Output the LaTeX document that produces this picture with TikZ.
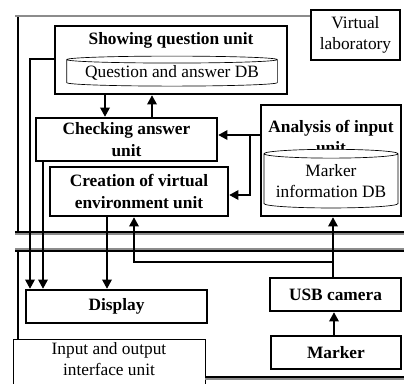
\documentclass[tikz,border=0pt]{standalone}
\usepackage{fontspec}
\setmainfont{Liberation Serif}
\usetikzlibrary{shapes.geometric,arrows.meta}

\begin{document}
\begin{tikzpicture}[x=0.75pt,y=-0.75pt,
  font=\fontsize{13}{16}\selectfont,
  unitbox/.style={draw,line width=1.7pt,inner sep=0pt,align=center},
  boldbox/.style={unitbox,font=\fontsize{13}{16}\selectfont\bfseries},
  titletext/.style={inner sep=0pt,align=center,font=\fontsize{13}{16}\selectfont\bfseries},
  dbnode/.style={draw,fill=white,line width=0.5pt,cylinder,shape border rotate=90,inner sep=0pt,align=center},
  plainbox/.style={draw,line width=0.7pt,inner sep=0pt,align=center},
  arr/.style={line width=1.7pt,-{Triangle[length=7pt,width=7pt]}},
  frame/.style={line width=0.9pt},
  frametop/.style={line width=1.7pt,black!45}]

	\useasboundingbox (0,0) rectangle (404,383);

	% virtual laboratory part
	\node[unitbox,minimum width=66.75pt,minimum height=37.5pt] (vl) at (355.5,35) {Virtual\\laboratory};
	\node[unitbox,minimum width=174pt,minimum height=51pt] (show) at (171,60) {};
	\node[titletext] (showt) at (171,40) {Showing question unit};
	\node[dbnode,aspect=0.04,minimum width=158pt,minimum height=22.5pt] (qadb) at (172,73) {Question and answer DB};
	\node[boldbox,minimum width=135.75pt,minimum height=32.25pt] (check) at (126.5,139.5) {Checking answer\\unit};
	\node[boldbox,minimum width=133.5pt,minimum height=36.75pt] (create) at (139,191.5) {Creation of virtual\\environment unit};
	\node[unitbox,minimum width=105pt,minimum height=83.25pt] (anal) at (331,160.5) {};
	\node[titletext] (analt) at (331,137) {Analysis of input\\unit};
	\node[dbnode,aspect=0.08,minimum width=100.5pt,minimum height=44pt] (mdb) at (331,181) {Marker\\information DB};

	% input and output part
	\node[boldbox,minimum width=135.75pt,minimum height=24.75pt] (display) at (116.5,306.5) {Display};
	\node[boldbox,minimum width=98.25pt,minimum height=24.75pt] (usb) at (335.5,294.5) {USB camera};
	\node[boldbox,minimum width=97.5pt,minimum height=24.75pt] (marker) at (336,352.5) {Marker};
	\node[plainbox,minimum width=144pt,minimum height=42pt,text depth=12pt] (io) at (109,367) {Input and output\\interface unit};

	\coordinate (tap) at (333,262);
	\coordinate (split) at (250,135);

	% frames
	\draw[frametop] (15,16) -- (vl.west |- 0,16);
	\draw[frame] (18,17) -- (18,232);
	\draw[frametop] (15,234) -- (404,234);
	\draw[frame] (15,232) -- (404,232);
	\draw[frametop] (15,249) -- (404,249);
	\draw[frame] (15,251) -- (404,251);
	\draw[frame] (18,251) -- (io.north -| 18,0);
	\draw[frame] (io.east |- 0,377) -- (404,377);
	\draw[frametop] (io.east |- 0,379) -- (404,379);

	% connectors
	\draw[arr] (show.south -| 105,0) -- (check.north -| 105,0);
	\draw[arr] (check.north -| 152,0) -- (show.south -| 152,0);
	\draw[arr] (show.west |- 0,59) -| (display.north -| 30,0);
	\draw[arr] (check.south -| 43,0) -- (display.north -| 43,0);
	\draw[arr] (create.south -| 107,0) -- (display.north -| 107,0);
	\draw[arr] (anal.west |- split) -- (check.east |- split);
	\draw[arr] (split) |- (create.east |- 0,195);
	\draw[arr] (usb.north -| tap) -- (anal.south -| tap);
	\draw[arr] (tap) -| (create.south -| 134,0);
	\draw[arr] (marker.north -| 334,0) -- (usb.south -| 334,0);
\end{tikzpicture}
\end{document}
